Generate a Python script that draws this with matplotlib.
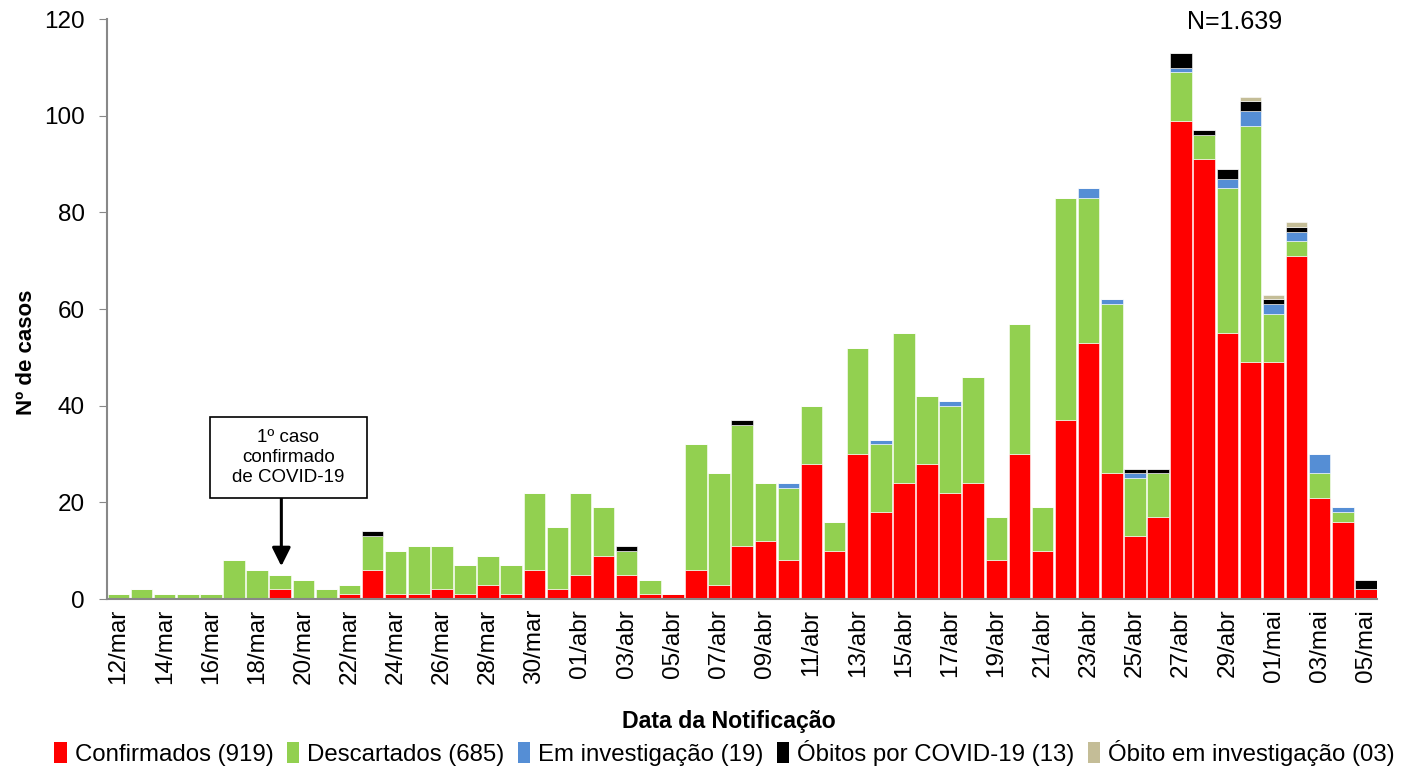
import numpy as np
import pandas as pd
import matplotlib
matplotlib.use('Agg')
import matplotlib.pyplot as plt
from matplotlib.patches import Rectangle, Patch

plt.rcParams['font.family'] = ['Liberation Sans', 'DejaVu Sans']

# daily notifications, 12/mar -> 05/mai
dates = pd.date_range('2020-03-12', '2020-05-05')
meses = {3: 'mar', 4: 'abr', 5: 'mai'}
labels = [f"{d.day:02d}/{meses[d.month]}" for d in dates]

confirmados = [0, 0, 0, 0, 0, 0, 0, 2, 0, 0,
               1, 6, 1, 1, 2, 1, 3, 1, 6, 2,
               5, 9, 5, 1, 1, 6, 3, 11, 12, 8,
               28, 10, 30, 18, 24, 28, 22, 24, 8, 30,
               10, 37, 53, 26, 13, 17, 99, 91, 55, 49,
               49, 71, 21, 16, 2]
descartados = [1, 2, 1, 1, 1, 8, 6, 3, 4, 2,
               2, 7, 9, 10, 9, 6, 6, 6, 16, 13,
               17, 10, 5, 3, 0, 26, 23, 25, 12, 15,
               12, 6, 22, 14, 31, 14, 18, 22, 9, 27,
               9, 46, 30, 35, 12, 9, 10, 5, 30, 49,
               10, 3, 5, 2, 0]
investigacao = [0] * 29 + [1, 0, 0, 0, 1, 0, 0, 1, 0, 0, 0,
                           0, 0, 2, 1, 1, 0, 1, 0, 2, 3,
                           2, 2, 4, 1, 0]
obitos = [0] * 11 + [1] + [0] * 10 + [1, 0, 0, 0, 0, 1, 0, 0,
                                      0, 0, 0, 0, 0, 0, 0, 0, 0, 0,
                                      0, 0, 0, 0, 1, 1, 3, 1, 2, 2,
                                      1, 1, 0, 0, 2]
obito_inv = [0] * 49 + [1, 1, 1, 0, 0, 0]

series = [
    ('Confirmados (919)', confirmados, '#FF0000'),
    ('Descartados (685)', descartados, '#92D050'),
    ('Em investigação (19)', investigacao, '#558ED5'),
    ('Óbitos por COVID-19 (13)', obitos, '#000000'),
    ('Óbito em investigação (03)', obito_inv, '#C4BD97'),
]

fig = plt.figure(figsize=(14.07, 7.68), dpi=100)
ax = fig.add_axes([0.076, 0.22, 0.903, 0.755])

x = np.arange(len(dates))
bottom = np.zeros(len(dates))
handles = []
for name, vals, col in series:
    vals = np.array(vals)
    ax.bar(x, vals, bottom=bottom, width=0.93, color=col,
           edgecolor='white', linewidth=0.4)
    bottom += vals
    handles.append(Patch(facecolor=col, label=name))

ax.set_xlim(-0.5, len(dates) - 0.5)
ax.set_ylim(0, 120)
ax.set_yticks(range(0, 121, 20))
ax.set_xticks(x[::2])
ax.set_xticklabels(labels[::2], rotation=90, fontsize=17.5)
ax.tick_params(axis='y', labelsize=17.5, length=6, color='#888888', pad=10)
ax.tick_params(axis='x', length=0, pad=7)
for s in ['top', 'right']:
    ax.spines[s].set_visible(False)
for s in ['left', 'bottom']:
    ax.spines[s].set_color('#888888')
    ax.spines[s].set_linewidth(1.5)

ax.set_ylabel('Nº de casos', fontsize=16, fontweight='bold', labelpad=12)
ax.yaxis.set_label_coords(-0.055, 0.426)
fig.text(0.518, 0.06, 'Data da Notificação', fontsize=16.7, fontweight='bold',
         ha='center', va='center')

ax.text(48.3, 119.4, 'N=1.639', fontsize=18, ha='center', va='center')

# caixa do 1o caso
ax.add_patch(Rectangle((3.96, 20.9), 6.8, 16.8, facecolor='white',
                       edgecolor='black', linewidth=1.2, zorder=5))
ax.text(7.35, 29.3, '1º caso\nconfirmado\nde COVID-19', fontsize=13.5,
        ha='center', va='center', linespacing=1.25, zorder=6)
ax.annotate('', xy=(7.05, 6.8), xytext=(7.05, 20.9),
            arrowprops=dict(arrowstyle='-|>', color='black', lw=2.2,
                            mutation_scale=28, shrinkA=0, shrinkB=0))

fig.legend(handles=handles, loc='center', bbox_to_anchor=(0.515, 0.02),
           ncol=5, frameon=False, fontsize=17.3, handlelength=0.5,
           handleheight=0.95, handletextpad=0.35, columnspacing=0.55,
           borderaxespad=0)

fig.savefig('out.png', dpi=100)
